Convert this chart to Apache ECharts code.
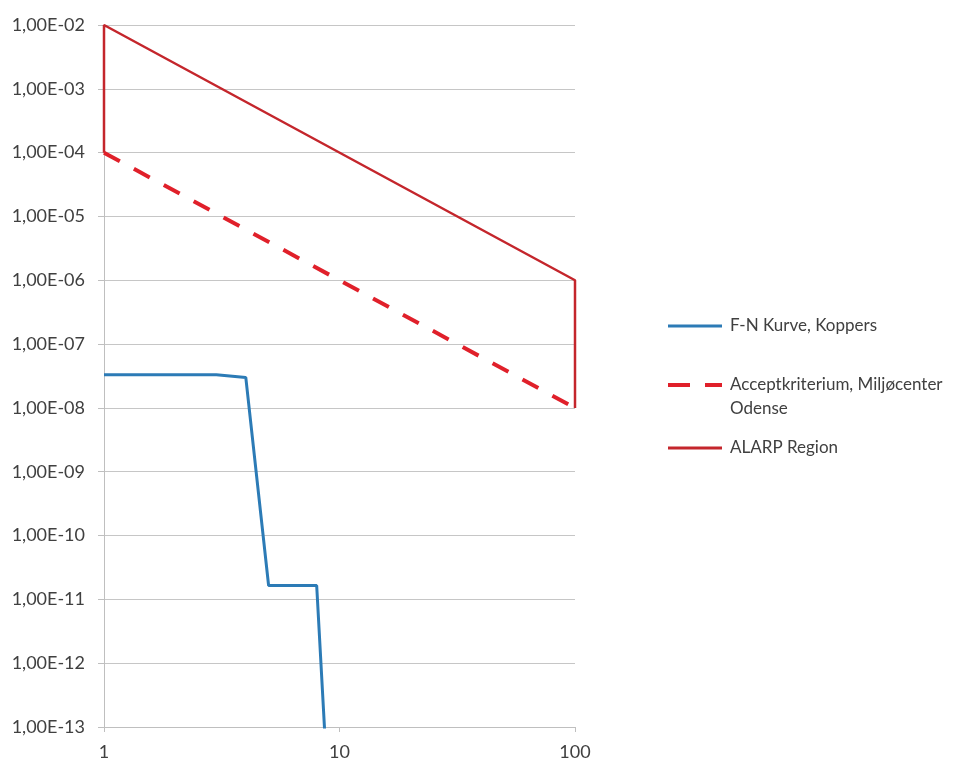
<!DOCTYPE html>
<html><head><meta charset="utf-8">
<script src="https://cdn.jsdelivr.net/npm/echarts@6/dist/echarts.min.js"></script>
<style>html,body{margin:0;padding:0;background:#fff}#c{width:960px;height:762px}</style>
</head><body><div id="c"></div>
<script>
// F-N curve (N, F)
var fnN = [1, 2, 3, 4, 5, 6, 7, 8, 9];
var fnF = [3.3e-8, 3.3e-8, 3.3e-8, 3.0e-8, 1.65e-11, 1.65e-11, 1.65e-11, 1.65e-11, 6e-15];
// Acceptance criterion
var accN = [1, 100];
var accF = [1e-4, 1e-8];
// ALARP region outline
var alarpN = [1, 1, 100, 100];
var alarpF = [1e-4, 1e-2, 1e-6, 1e-8];
var seriesNames = ['F-N Kurve, Koppers', 'Acceptkriterium, Miljøcenter Odense', 'ALARP Region'];
var yTickLabels = {'-2':'1,00E-02','-3':'1,00E-03','-4':'1,00E-04','-5':'1,00E-05','-6':'1,00E-06','-7':'1,00E-07','-8':'1,00E-08','-9':'1,00E-09','-10':'1,00E-10','-11':'1,00E-11','-12':'1,00E-12','-13':'1,00E-13'};

function zip(a, b) { return a.map(function (v, i) { return [v, b[i]]; }); }
var font = 'Lato, "Open Sans", sans-serif';
var textColor = '#404040';
var blue = '#2c7bb6', red = '#c4262c', red2 = '#e0202a';
var lh = 24;
var chart = echarts.init(document.getElementById('c'));
var icons = [
  'path://M0,0h54v3h-54z',
  'path://M0,0h22v4h-22z M37,0h17v4h-17z',
  'path://M0,0h54v3h-54z'
];
var tok = { fontFamily: font, fontSize: 17, color: textColor };
function legendFor(i, top) {
  return {
    data: [{ name: seriesNames[i], icon: icons[i] }], orient: 'vertical', left: 668, top: top, padding: 0,
    itemWidth: 54, itemHeight: i === 1 ? 4 : 3, itemGap: 0,
    textStyle: { fontFamily: font, fontSize: 17, color: textColor, lineHeight: lh, padding: [0, 0, 0, 3],
      rich: {
        a: Object.assign({ lineHeight: 2 * lh, verticalAlign: 'bottom', height: lh }, tok),
        b: Object.assign({ lineHeight: lh }, tok)
      } },
    formatter: function (n) { return n === seriesNames[1] ? '{a|Acceptkriterium, Miljøcenter}\n{b|Odense}' : n; }
  };
}
chart.setOption({
  animation: false,
  backgroundColor: '#fff',
  grid: { left: 104, right: 385, top: 25, bottom: 35 },
  legend: [legendFor(0, 314), legendFor(1, 349), legendFor(2, 436)],
  xAxis: {
    type: 'log', logBase: 10, min: 1, max: 100,
    axisLine: { show: true, lineStyle: { color: '#bfbfbf', width: 1 } },
    axisTick: { show: true, length: 5, lineStyle: { color: '#bfbfbf' } },
    splitLine: { show: false },
    axisLabel: { fontFamily: font, fontSize: 18, color: textColor, margin: 16 }
  },
  yAxis: {
    type: 'log', logBase: 10, min: 1e-13, max: 1e-2, interval: 1, splitNumber: 11,
    axisLine: { show: true, lineStyle: { color: '#bfbfbf', width: 1 } },
    axisTick: { show: true, length: 6, lineStyle: { color: '#bfbfbf' } },
    splitLine: { show: true, lineStyle: { color: '#c6c6c6', width: 1 } },
    axisLabel: {
      fontFamily: font, fontSize: 18, color: textColor, margin: 19,
      formatter: function (v) { return yTickLabels[String(Math.round(Math.log10(v)))] || ''; }
    }
  },
  series: [
    { name: seriesNames[0], type: 'line', data: zip(fnN, fnF), symbol: 'none', clip: true,
      lineStyle: { color: blue, width: 3 }, itemStyle: { color: blue } },
    { name: seriesNames[2], type: 'line', data: zip(alarpN, alarpF), symbol: 'none', clip: true,
      lineStyle: { color: red, width: 2.5 }, itemStyle: { color: red } },
    { name: seriesNames[1], type: 'line', data: zip(accN, accF), symbol: 'none', clip: true,
      lineStyle: { color: red2, width: 4, type: [18, 16] }, itemStyle: { color: red2 } }
  ]
});
</script></body></html>
